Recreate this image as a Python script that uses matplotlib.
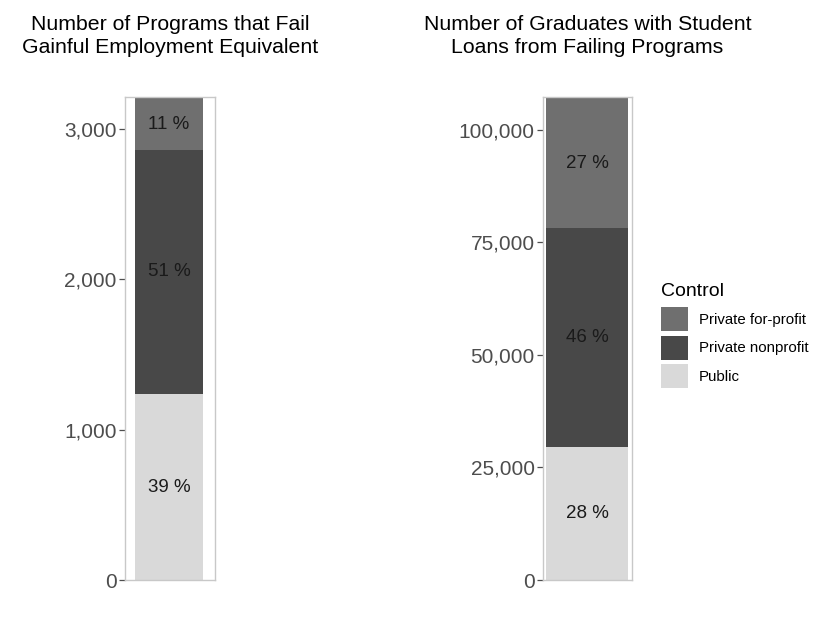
import matplotlib
matplotlib.use("Agg")
import matplotlib.pyplot as plt
from matplotlib.patches import Patch
from matplotlib.ticker import FuncFormatter

plt.rcParams['font.family'] = ['Liberation Sans', 'DejaVu Sans']

# Data (stack order bottom -> top)
categories = ['Public', 'Private nonprofit', 'Private for-profit']
programs = [1235, 1625, 340]
graduates = [29500, 48800, 28700]

programs_ticks = [0, 1000, 2000, 3000]
graduates_ticks = [0, 25000, 50000, 75000, 100000]

titles = ['Number of Programs that Fail\nGainful Employment Equivalent',
          'Number of Graduates with Student\nLoans from Failing Programs']

colors = {
    'Public': '#d9d9d9',
    'Private nonprofit': '#484848',
    'Private for-profit': '#6f6f6f',
}

W, H = 817, 617
fig = plt.figure(figsize=(W / 100, H / 100), dpi=100)
fig.patch.set_facecolor('white')


def draw_panel(ax, values, ticks, title, xlim):
    total = sum(values)
    bottom = 0
    for cat, v in zip(categories, values):
        ax.bar(0, v, width=0.9, bottom=bottom, color=colors[cat], edgecolor='none')
        pct = round(100 * v / total)
        ax.text(0, bottom + v / 2, f'{pct} %', ha='center', va='center',
                fontsize=13.5, color='#1a1a1a')
        bottom += v
    ax.set_xlim(*xlim)
    ax.set_ylim(0, total * 1.003)
    ax.set_xticks([])
    ax.set_yticks(ticks)
    ax.yaxis.set_major_formatter(FuncFormatter(lambda x, p: f'{int(x):,}'))
    ax.tick_params(axis='y', length=4, width=0.9, color='#4d4d4d',
                   labelcolor='#4d4d4d', labelsize=15, pad=2)
    for s in ax.spines.values():
        s.set_color('#c8c8c8')
        s.set_linewidth(1.0)
    ax.set_title(title, fontsize=15.3, color='black', pad=32, linespacing=1.25)


ax1 = fig.add_axes([125 / W, 37 / H, 90 / W, 483 / H])
draw_panel(ax1, programs, programs_ticks, titles[0], (-0.582, 0.609))

ax2 = fig.add_axes([543 / W, 37 / H, 89 / W, 483 / H])
draw_panel(ax2, graduates, graduates_ticks, titles[1], (-0.483, 0.494))

# legend (top entry first like ggplot)
handles = [Patch(facecolor=colors[c], edgecolor='none', label=c) for c in categories[::-1]]
leg = fig.legend(handles=handles, title='Control', loc='upper left',
                 bbox_to_anchor=(661 / W, 1 - 283 / H), frameon=False,
                 fontsize=10.8, title_fontsize=14, handlelength=1.8,
                 handleheight=2.1, labelspacing=0.3, handletextpad=0.73,
                 alignment='left', borderaxespad=0, borderpad=0)
leg._legend_box.sep = 5

plt.savefig('out.png', dpi=100, facecolor='white')
